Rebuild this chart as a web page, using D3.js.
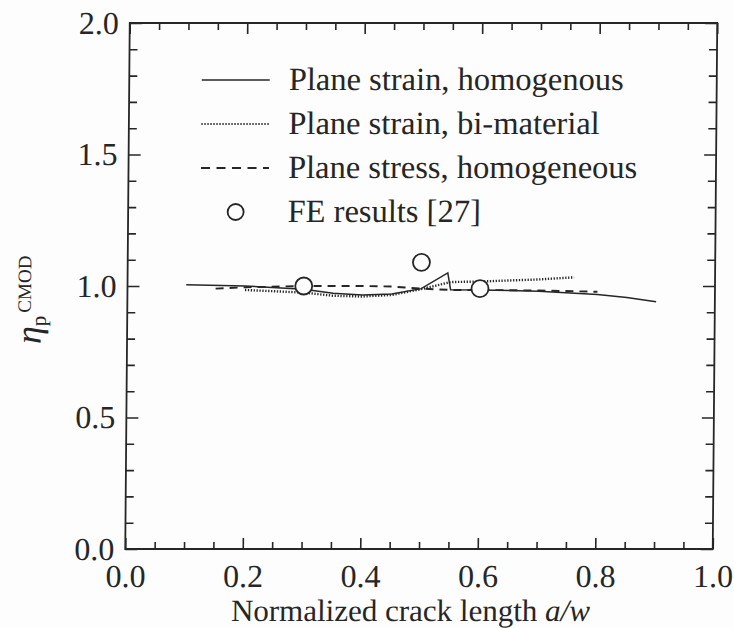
<!DOCTYPE html>
<html><head><meta charset="utf-8">
<script src="https://cdn.jsdelivr.net/npm/d3@7"></script>
<style>body{margin:0;background:#fff}svg{display:block}</style>
</head><body><svg id="c" width="734" height="628"></svg>
<script>
// ---- data ----
const solidX = [0.10, 0.20, 0.30, 0.35, 0.40, 0.45, 0.50, 0.545, 0.55, 0.60, 0.70, 0.80, 0.85, 0.90];
const solidY = [1.005, 1.000, 0.988, 0.972, 0.966, 0.970, 0.990, 1.050, 0.986, 0.985, 0.980, 0.968, 0.956, 0.940];
const dotX = [0.20, 0.25, 0.30, 0.35, 0.40, 0.45, 0.50, 0.55, 0.60, 0.70, 0.76];
const dotY = [0.985, 0.980, 0.975, 0.963, 0.960, 0.966, 0.988, 1.015, 1.017, 1.025, 1.033];
const dashX = [0.15, 0.20, 0.30, 0.40, 0.45, 0.50, 0.55, 0.60, 0.70, 0.80];
const dashY = [0.990, 0.995, 1.000, 1.000, 0.998, 0.990, 0.985, 0.985, 0.983, 0.978];
const feX = [0.30, 0.50, 0.60];
const feY = [1.00, 1.09, 0.99];
const xMajor = [0.0, 0.2, 0.4, 0.6, 0.8, 1.0];
const xMinor = [0.05,0.1,0.15,0.25,0.3,0.35,0.45,0.5,0.55,0.65,0.7,0.75,0.85,0.9,0.95];
const yMajor = [0.0, 0.5, 1.0, 1.5, 2.0];
const yMinor = [0.1,0.2,0.3,0.4,0.6,0.7,0.8,0.9,1.1,1.2,1.3,1.4,1.6,1.7,1.8,1.9];
const legendLabels = ["Plane strain, homogenous","Plane strain, bi-material","Plane stress, homogeneous","FE results [27]"];
const xTitle = "Normalized crack length ";
const xTitleItalic = "a/w";

// ---- layout ----
const INK = "#262626";
const FONT = "'Liberation Serif','Times New Roman',serif";
const m = {l:127.5, r:715, t:23, b:549};
const svg = d3.select("#c");
svg.append("rect").attr("width",734).attr("height",628).attr("fill","#fdfdfd");
const cx = (m.l+m.r)/2, cy = (m.t+m.b)/2;
const root = svg.append("g").attr("transform",`translate(${cx},${cy}) skewX(-0.49) translate(${-cx},${-cy})`);

const x = d3.scaleLinear().domain([0,1]).range([m.l,m.r]);
const y = d3.scaleLinear().domain([0,2]).range([m.b,m.t]);

function styleAxis(g){
  g.select(".domain").remove();
  g.selectAll("line").attr("stroke",INK).attr("stroke-width",1.6);
  g.selectAll("text").attr("fill",INK).style("font-family",FONT).style("font-size","32px");
}
// bottom
root.append("g").attr("transform",`translate(0,${m.b})`)
  .call(d3.axisBottom(x).tickValues(xMinor).tickSize(-7).tickFormat("")).call(styleAxis);
root.append("g").attr("transform",`translate(0,${m.b})`)
  .call(d3.axisBottom(x).tickValues(xMajor).tickSize(-11).tickPadding(15).tickFormat(d3.format(".1f"))).call(styleAxis);
// top
root.append("g").attr("transform",`translate(0,${m.t})`)
  .call(d3.axisTop(x).tickValues(xMinor).tickSize(-7).tickFormat("")).call(styleAxis);
root.append("g").attr("transform",`translate(0,${m.t})`)
  .call(d3.axisTop(x).tickValues(xMajor).tickSize(-11).tickFormat("")).call(styleAxis);
// left
root.append("g").attr("transform",`translate(${m.l},0)`)
  .call(d3.axisLeft(y).tickValues(yMinor).tickSize(-8).tickFormat("")).call(styleAxis);
root.append("g").attr("transform",`translate(${m.l},0)`)
  .call(d3.axisLeft(y).tickValues(yMajor).tickSize(-12).tickPadding(11).tickFormat(d3.format(".1f"))).call(styleAxis);
// right
root.append("g").attr("transform",`translate(${m.r},0)`)
  .call(d3.axisRight(y).tickValues(yMinor).tickSize(-8).tickFormat("")).call(styleAxis);
root.append("g").attr("transform",`translate(${m.r},0)`)
  .call(d3.axisRight(y).tickValues(yMajor).tickSize(-12).tickFormat("")).call(styleAxis);

// frame
root.append("rect").attr("x",m.l).attr("y",m.t).attr("width",m.r-m.l).attr("height",m.b-m.t)
  .attr("fill","none").attr("stroke",INK).attr("stroke-width",1.8);

// curves
const line = d3.line().x(d=>x(d[0])).y(d=>y(d[1]));
const zip = (a,b)=>a.map((v,i)=>[v,b[i]]);
root.append("path").datum(zip(dotX,dotY)).attr("d",line).attr("fill","none")
  .attr("stroke",INK).attr("stroke-width",2.4).attr("stroke-dasharray","1.3 1.6");
root.append("path").datum(zip(dashX,dashY)).attr("d",line).attr("fill","none")
  .attr("stroke",INK).attr("stroke-width",1.9).attr("stroke-dasharray","8 6");
root.append("path").datum(zip(solidX,solidY)).attr("d",line).attr("fill","none")
  .attr("stroke",INK).attr("stroke-width",1.5);
root.selectAll("circle.fe").data(zip(feX,feY)).join("circle").attr("class","fe")
  .attr("cx",d=>x(d[0])).attr("cy",d=>y(d[1])).attr("r",8.5)
  .attr("fill","#fdfdfd").attr("stroke",INK).attr("stroke-width",1.8);

// legend
const lg = root.append("g");
const rowBase = [90,134,178,222];
const styles = [
  {dash:null,w:1.5},{dash:"1.3 1.7",w:2.2},{dash:"9 6.5",w:1.8},null
];
legendLabels.forEach((lab,i)=>{
  const yy = rowBase[i]-10;
  if(styles[i]){
    lg.append("line").attr("x1",200).attr("x2",268).attr("y1",yy).attr("y2",yy)
      .attr("stroke",INK).attr("stroke-width",styles[i].w)
      .attr("stroke-dasharray",styles[i].dash);
  } else {
    lg.append("circle").attr("cx",235).attr("cy",yy).attr("r",8)
      .attr("fill","#fdfdfd").attr("stroke",INK).attr("stroke-width",1.8);
  }
  lg.append("text").attr("x",287).attr("y",rowBase[i]).text(lab)
    .attr("fill",INK).style("font-family",FONT).style("font-size","32.5px");
});

// x title
const xt = root.append("text").attr("x",cx-8).attr("y",621).attr("text-anchor","middle")
  .attr("fill",INK).style("font-family",FONT).style("font-size","31px");
xt.append("tspan").text(xTitle);
xt.append("tspan").text(xTitleItalic).style("font-style","italic");

// y title
const yt = root.append("text").attr("transform","translate(41,344) rotate(-90)")
  .attr("fill",INK).style("font-family",FONT);
yt.append("tspan").text("η").style("font-style","italic").style("font-size","36px");
yt.append("tspan").text("p").attr("dy",5).style("font-size","21px");
yt.append("tspan").text("CMOD").attr("dx",3).attr("dy",-15).style("font-size","19px");
</script></body></html>
